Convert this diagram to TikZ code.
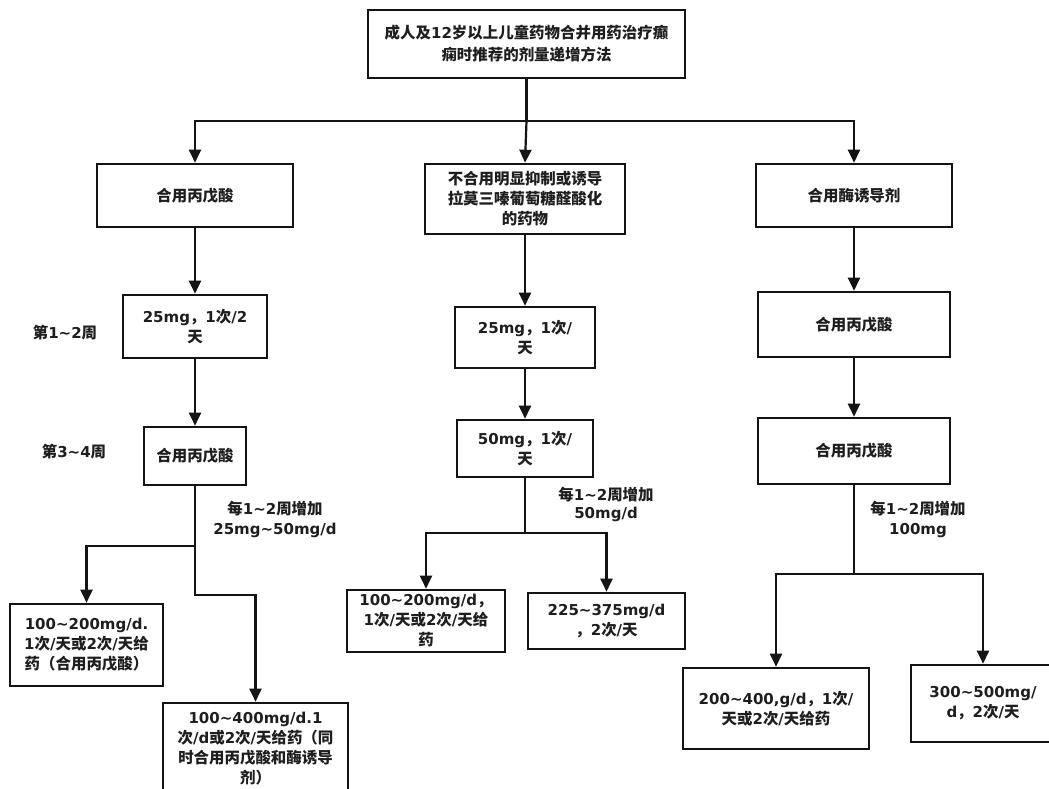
\documentclass[tikz,border=0pt]{standalone}
\usepackage{fontspec}
\usetikzlibrary{arrows.meta}
\setmainfont{DejaVu Sans}
\newfontfamily\latf{DejaVu Sans}
\newfontfamily\cjkf{Noto Sans CJK SC}[Scale=1.03]
% automatic switch between Latin and CJK fonts
\XeTeXinterchartokenstate=1
\newXeTeXintercharclass\cjkclass
\count255="3000
\loop\ifnum\count255<"A000 \XeTeXcharclass\count255=\cjkclass \advance\count255 by 1 \repeat
\count255="FF00
\loop\ifnum\count255<"FFF0 \XeTeXcharclass\count255=\cjkclass \advance\count255 by 1 \repeat
\XeTeXinterchartoks 0 \cjkclass={\cjkf}
\XeTeXinterchartoks 4095 \cjkclass={\cjkf}
\XeTeXinterchartoks \cjkclass 0={\latf}
\newcommand\tild{\textasciitilde}
\definecolor{txt}{HTML}{1E1E1E}
\definecolor{edge}{HTML}{141414}
\begin{document}
\begin{tikzpicture}[x=1pt,y=-1pt,
  txtfont/.style={font=\bfseries\fontsize{15}{20}\selectfont\latf},
  box/.style={draw=edge, line width=2.6pt, fill=white, align=center, inner sep=0pt, txtfont, text=txt},
  lab/.style={align=center, txtfont, text=txt, inner sep=0pt},
  ln/.style={draw=edge, line width=2.2pt, line cap=rect, line join=miter},
  arr/.style={draw=edge, line width=2.2pt, line cap=rect, line join=miter, -{Triangle[length=13pt,width=12pt]}}]
\useasboundingbox (0,0) rectangle (1049,789);
\clip (0,0) rectangle (1049,789);
\fill[white] (0,0) rectangle (1049,789);

% boxes
\node[box, minimum width=317, minimum height=68, font=\bfseries\fontsize{15}{22}\selectfont\latf] (top) at (526.5,44) {成人及12岁以上儿童药物合并用药治疗癫\\痫时推荐的剂量递增方法};
\node[box, minimum width=196, minimum height=63] (L1) at (195,195.5) {合用丙戊酸};
\node[box, minimum width=200, minimum height=70] (M1) at (525,199) {不合用明显抑制或诱导\\拉莫三嗪葡萄糖醛酸化\\的药物};
\node[box, minimum width=196, minimum height=63] (R1) at (854,195.5) {合用酶诱导剂};

\node[box, minimum width=144, minimum height=63] (L2) at (195,326.5) {25mg，1次/2\\天};
\node[box, minimum width=102, minimum height=58] (L3) at (195,456) {合用丙戊酸};
\node[box, minimum width=153, minimum height=82] (L4a) at (86.5,645) {100\tild200mg/d.\\1次/天或2次/天给\\药（合用丙戊酸）};
\node[box, minimum width=185, minimum height=92] (L4b) at (255.5,749) {100\tild400mg/d.1\\次/d或2次/天给药（同\\时合用丙戊酸和酶诱导\\剂）};

\node[box, minimum width=140, minimum height=61] (M2) at (525,337.5) {25mg，1次/\\天};
\node[box, minimum width=136, minimum height=57] (M3) at (525,448.5) {50mg，1次/\\天};
\node[box, minimum width=158, minimum height=62] (M4a) at (426,621) {100\tild200mg/d，\\1次/天或2次/天给\\药};
\node[box, minimum width=157, minimum height=56] (M4b) at (606.5,621) {225\tild375mg/d\\，2次/天};

\node[box, minimum width=192, minimum height=65] (R2) at (854,324.5) {合用丙戊酸};
\node[box, minimum width=192, minimum height=66] (R3) at (854,451) {合用丙戊酸};
\node[box, minimum width=186, minimum height=81] (R4a) at (776,708.5) {200\tild400,g/d，1次/\\天或2次/天给药};
\node[box, minimum width=144, minimum height=77] (R4b) at (983,703.5) {300\tild500mg/\\d，2次/天};

% labels
\node[lab] (w12) at (65,333) {第1\tild2周};
\node[lab] (w34) at (74,452) {第3\tild4周};
\node[lab] (labL) at (275,519) {每1\tild2周增加\\25mg\tild50mg/d};
\node[lab, font=\bfseries\fontsize{15}{18}\selectfont\latf] (labM) at (606,504) {每1\tild2周增加\\50mg/d};
\node[lab] (labR) at (918,519) {每1\tild2周增加\\100mg};

% junction points
\coordinate (j0) at (526.5,121);
\coordinate (jL) at (195,546);
\coordinate (jL2) at (195,595);
\coordinate (jM) at (525,533);
\coordinate (jR) at (854,574);

% connectors
\draw[ln] (top.south) -- (j0);
\draw[arr] (j0) -| (L1.north);
\draw[arr] (j0) -- (M1.north);
\draw[arr] (j0) -| (R1.north);

\draw[arr] (L1.south) -- (L2.north);
\draw[arr] (L2.south) -- (L3.north);
\draw[ln] (L3.south) -- (jL);
\draw[arr] (jL) -| (L4a.north);
\draw[ln] (jL) -- (jL2);
\draw[arr] (jL2) -| (L4b.north);

\draw[arr] (M1.south) -- (M2.north);
\draw[arr] (M2.south) -- (M3.north);
\draw[ln] (M3.south) -- (jM);
\draw[arr] (jM) -| (M4a.north);
\draw[arr] (jM) -| (M4b.north);

\draw[arr] (R1.south) -- (R2.north);
\draw[arr] (R2.south) -- (R3.north);
\draw[ln] (R3.south) -- (jR);
\draw[arr] (jR) -| (R4a.north);
\draw[arr] (jR) -| (R4b.north);
\end{tikzpicture}
\end{document}
